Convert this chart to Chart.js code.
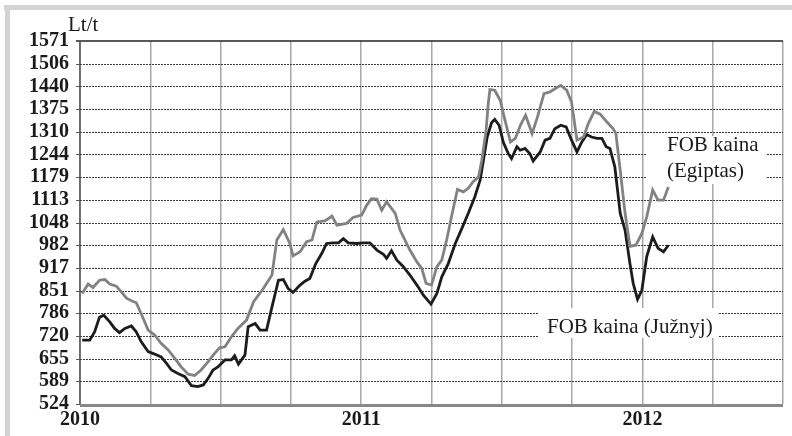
<!DOCTYPE html>
<html>
<head>
<meta charset="utf-8">
<script src="https://cdn.jsdelivr.net/npm/chart.js@4.4.1/dist/chart.umd.min.js"></script>
<style>
  html, body { margin: 0; padding: 0; background: #fff; }
  #wrap { position: relative; width: 792px; height: 436px; }
</style>
</head>
<body>
<div id="wrap"><canvas id="c" width="792" height="436"></canvas></div>
<script>
// weeks counted from start of 2010, prices in Lt/t
const egyptWeeks = [0.4, 1.5, 2.4, 3.6, 4.6, 5.5, 6.7, 7.6, 8.6, 9.5, 10.4, 11.3, 12.6, 13.8, 15.0, 16.3, 17.5, 18.7, 20.0, 21.2, 22.4, 23.7, 24.9, 25.8, 26.8, 28.0, 29.2, 30.8, 32.1, 33.9, 35.5, 36.4, 37.6, 38.8, 39.4, 40.7, 41.9, 42.9, 43.8, 45.3, 46.6, 47.5, 49.3, 50.5, 52.1, 53.0, 53.9, 54.9, 55.8, 56.7, 58.3, 59.2, 60.1, 61.0, 62.3, 63.2, 64.0, 65.0, 66.0, 66.9, 67.8, 68.7, 69.8, 70.9, 71.8, 72.7, 73.7, 74.3, 75.1, 75.5, 75.8, 76.7, 77.7, 78.6, 79.6, 80.5, 81.5, 82.4, 83.6, 84.6, 85.8, 86.9, 88.2, 88.9, 90.0, 90.9, 91.9, 93.1, 94.0, 95.1, 96.2, 97.4, 98.6, 99.1, 99.9, 100.8, 101.7, 102.8, 103.9, 104.8, 105.9, 106.9, 107.9, 108.8];
const egyptValues = [843, 870, 860, 881, 883, 870, 864, 848, 829, 822, 816, 785, 737, 723, 699, 680, 656, 631, 610, 606, 622, 646, 670, 686, 689, 718, 742, 766, 819, 857, 896, 997, 1027, 987, 951, 963, 992, 997, 1049, 1052, 1066, 1040, 1045, 1062, 1069, 1097, 1116, 1115, 1083, 1107, 1074, 1025, 997, 968, 934, 915, 872, 867, 920, 939, 997, 1064, 1143, 1136, 1146, 1165, 1179, 1227, 1314, 1391, 1431, 1429, 1400, 1342, 1280, 1290, 1330, 1357, 1304, 1352, 1419, 1424, 1437, 1443, 1429, 1395, 1285, 1294, 1333, 1368, 1360, 1338, 1318, 1304, 1198, 1074, 979, 982, 1016, 1064, 1141, 1112, 1112, 1150];

const yuzhnyWeeks = [0.4, 1.8, 2.7, 3.6, 4.4, 5.5, 6.4, 7.3, 8.3, 9.5, 10.4, 11.3, 12.6, 13.8, 15.0, 16.0, 16.9, 18.1, 19.4, 20.6, 21.8, 22.8, 23.7, 24.6, 25.5, 26.8, 28.0, 28.6, 29.3, 30.5, 31.1, 32.4, 33.3, 34.5, 35.5, 36.7, 37.6, 38.5, 39.4, 40.7, 41.6, 42.5, 43.6, 44.7, 45.6, 46.8, 47.8, 48.7, 49.6, 51.2, 52.4, 53.6, 54.9, 56.1, 56.7, 57.6, 58.6, 59.8, 61.0, 62.3, 63.5, 64.9, 66.0, 66.9, 68.1, 69.4, 70.6, 71.8, 73.0, 74.0, 74.6, 75.3, 76.1, 76.7, 77.5, 78.3, 79.2, 79.8, 80.8, 81.4, 82.3, 83.2, 83.8, 85.1, 86.0, 86.9, 87.8, 88.9, 89.9, 90.9, 91.9, 92.8, 93.7, 94.6, 95.6, 96.5, 97.3, 98.0, 98.9, 99.9, 100.8, 101.7, 102.3, 103.1, 103.9, 104.8, 105.9, 106.9, 107.9, 108.8];
const yuzhnyValues = [708, 708, 732, 774, 780, 761, 742, 730, 742, 749, 732, 704, 675, 668, 660, 641, 622, 612, 603, 577, 574, 579, 598, 622, 631, 651, 651, 663, 639, 665, 747, 756, 737, 737, 804, 881, 883, 857, 846, 867, 878, 886, 929, 958, 987, 989, 989, 1001, 989, 987, 989, 989, 968, 956, 944, 966, 939, 920, 896, 867, 838, 812, 843, 891, 929, 987, 1030, 1074, 1121, 1170, 1227, 1294, 1335, 1345, 1328, 1278, 1246, 1232, 1266, 1256, 1261, 1246, 1225, 1251, 1285, 1290, 1318, 1328, 1323, 1285, 1251, 1280, 1301, 1294, 1290, 1290, 1266, 1261, 1208, 1074, 1025, 929, 872, 826, 852, 949, 1006, 973, 963, 982];

const yTickLabels = ["524", "589", "655", "720", "786", "851", "917", "982", "1048", "1113", "1179", "1244", "1310", "1375", "1440", "1506", "1571"];
const yearLabels = { 0: "2010", 52: "2011", 104: "2012" };

const yMin = 524, yMax = 1571;
const yStep = (yMax - yMin) / (yTickLabels.length - 1);

function pairs(xs, ys) {
  return xs.map((x, i) => ({ x: x, y: ys[i] }));
}

const serif = "'Liberation Serif', 'Times New Roman', serif";

// grey frame, custom gridlines, unit and series notes
const decor = {
  id: "decor",
  beforeDraw(chart) {
    const ctx = chart.ctx;
    ctx.save();
    ctx.fillStyle = "#fff";
    ctx.fillRect(0, 0, chart.width, chart.height);
    ctx.fillStyle = "#d3d3d3";
    ctx.fillRect(4, 5, chart.width - 4, 5);
    ctx.fillRect(5, 5, 5, chart.height - 5);
    ctx.restore();
  },
  beforeDatasetsDraw(chart) {
    const ctx = chart.ctx;
    const a = chart.chartArea;
    const y = chart.scales.y;
    ctx.save();
    // dashed horizontal lines
    ctx.strokeStyle = "#3a3a3a";
    ctx.lineWidth = 1;
    ctx.setLineDash([2, 1]);
    for (let i = 1; i < yTickLabels.length - 1; i++) {
      const py = Math.round(y.getPixelForValue(yMin + i * yStep)) + 0.5;
      ctx.beginPath();
      ctx.moveTo(a.left, py);
      ctx.lineTo(a.right, py);
      ctx.stroke();
    }
    ctx.setLineDash([]);
    // top line
    ctx.strokeStyle = "#222";
    ctx.lineWidth = 1.5;
    ctx.beginPath();
    ctx.moveTo(a.left - 4, a.top);
    ctx.lineTo(a.right, a.top);
    ctx.stroke();
    // y ticks
    ctx.strokeStyle = "#555";
    ctx.lineWidth = 1;
    for (let i = 0; i < yTickLabels.length; i++) {
      const py = Math.round(y.getPixelForValue(yMin + i * yStep)) + 0.5;
      ctx.beginPath();
      ctx.moveTo(a.left - 4, py);
      ctx.lineTo(a.left, py);
      ctx.stroke();
    }
    // white boxes behind notes
    ctx.fillStyle = "#fff";
    ctx.fillRect(646, 136, 120, 48);
    ctx.fillRect(538, 308, 180, 30);
    ctx.restore();
  },
  afterDraw(chart) {
    const ctx = chart.ctx;
    const a = chart.chartArea;
    ctx.save();
    ctx.strokeStyle = "#888";
    ctx.lineWidth = 3;
    ctx.beginPath();
    ctx.moveTo(a.left, a.bottom + 1.5);
    ctx.lineTo(a.right, a.bottom + 1.5);
    ctx.stroke();
    ctx.strokeStyle = "#555";
    ctx.lineWidth = 1.5;
    ctx.beginPath();
    ctx.moveTo(a.left, a.top);
    ctx.lineTo(a.left, a.bottom);
    ctx.stroke();

    ctx.fillStyle = "#1a1a1a";
    ctx.font = "21px " + serif;
    ctx.textBaseline = "middle";
    ctx.textAlign = "left";
    ctx.fillText("Lt/t", 68, 25);
    ctx.fillText("FOB kaina", 667, 145);
    ctx.fillText("(Egiptas)", 667, 171);
    ctx.fillText("FOB kaina (Južnyj)", 547, 327);
    ctx.restore();
  }
};

new Chart(document.getElementById("c"), {
  type: "line",
  data: {
    datasets: [
      {
        label: "FOB kaina (Egiptas)",
        data: pairs(egyptWeeks, egyptValues),
        borderColor: "#828282",
        borderWidth: 2.8,
        pointRadius: 0,
        tension: 0
      },
      {
        label: "FOB kaina (Južnyj)",
        data: pairs(yuzhnyWeeks, yuzhnyValues),
        borderColor: "#1c1c1c",
        borderWidth: 2.8,
        pointRadius: 0,
        tension: 0
      }
    ]
  },
  options: {
    responsive: false,
    animation: false,
    layout: { padding: { top: 41, right: 9, left: 0, bottom: 0 } },
    plugins: {
      legend: { display: false },
      tooltip: { enabled: false }
    },
    scales: {
      x: {
        type: "linear",
        min: 0,
        max: 130,
        afterFit: (s) => { s.height = 32; },
        afterBuildTicks: (s) => {
          const t = [];
          for (let v = 0; v <= 130; v += 13) t.push({ value: v });
          s.ticks = t;
        },
        border: { display: false },
        grid: { color: "#a8a8a8", lineWidth: 1.5, drawTicks: false },
        ticks: {
          autoSkip: false,
          maxRotation: 0,
          padding: 4,
          color: "#1a1a1a",
          font: { family: serif, size: 20, weight: "bold" },
          callback: (v) => yearLabels[v] || ""
        }
      },
      y: {
        min: yMin,
        max: yMax,
        afterFit: (s) => { s.width = 80; },
        afterBuildTicks: (s) => {
          s.ticks = yTickLabels.map((_, i) => ({ value: yMin + i * yStep }));
        },
        border: { display: false },
        grid: { display: false, drawTicks: false },
        ticks: {
          autoSkip: false,
          padding: 11,
          color: "#1a1a1a",
          font: { family: serif, size: 20, weight: "bold" },
          callback: (v, i) => yTickLabels[i]
        }
      }
    }
  },
  plugins: [decor]
});
</script>
</body>
</html>
